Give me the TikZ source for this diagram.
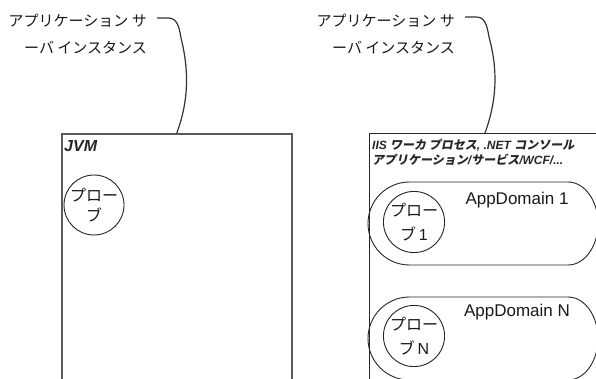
\documentclass[tikz,border=0pt]{standalone}
\usepackage{fontspec}
\setmainfont{Liberation Sans}
\newfontfamily\jp{Noto Sans CJK JP}
\newfontfamily\jpsl{Noto Sans CJK JP}[FakeSlant=0.2]
\newcommand\JB[1]{{\jpsl\bfseries #1}}
\begin{document}
\begin{tikzpicture}[x=1pt,y=-1pt,
  lbl/.style={font=\jp\fontsize{15}{27}\selectfont, text=black!90, align=right, inner sep=0pt, anchor=east},
  callout/.style={draw=black!80, line width=1.2pt},
  probe/.style={circle, draw=black!85, line width=0.9pt, minimum size=#1, inner sep=0pt, align=center, text=black!90},
  capsule/.style={draw=black!85, line width=0.9pt},
  appd/.style={font=\fontsize{17}{20}\selectfont, text=black!90, inner sep=0pt}]
\clip (0,0) rectangle (596,379);
\fill[white] (0,0) rectangle (596,379);

% boxes
\node[draw=black!65, line width=1.6pt, minimum width=230pt, minimum height=300pt,
      anchor=north west, inner sep=0pt] (jvm) at (61,133) {};
\node[draw=black!85, line width=1pt, minimum width=231pt, minimum height=300pt,
      anchor=north west, inner sep=0pt] (clr) at (369,133) {};

% labels and callouts
\node[lbl] (lbl1) at (147,34) {アプリケーション サ\\ーバ インスタンス};
\node[lbl] (lbl2) at (455,34) {アプリケーション サ\\ーバ インスタンス};
\coordinate (s1) at (157,18);
\coordinate (s2) at (465,17);
\draw[callout] (s1) -- ++(11,0) .. controls (177,18) and (179,26) .. (181,38)
   .. controls (189,70) and (189,100) .. (jvm.north);
\draw[callout] (s2) -- ++(11,0) .. controls (485,17) and (487,25) .. (489,37)
   .. controls (498,70) and (497,100) .. (clr.north);

% JVM content
\node[anchor=base west, inner sep=0pt, font=\fontsize{16}{18}\selectfont\bfseries\itshape, text=black!85] (jvmt) at (64,152) {JVM};
\node[probe=60pt, font=\jp\fontsize{16}{20}\selectfont] (p0) at (94,205) {プロー\\ブ};

% CLR content
\node[anchor=base west, inner sep=0pt, align=left, text=black!85,
      font=\fontsize{12}{15}\selectfont\bfseries\itshape] (hdr) at (372,165)
  {IIS \JB{ワーカ プロセス}, .NET \JB{コンソール}\\\JB{アプリケーション}/\JB{サービス}/WCF/...};

\draw[capsule] (409.5,182) -- (568,182) arc[start angle=90, end angle=-90, x radius=30pt, y radius=41.5pt]
   -- (409.5,265) arc[start angle=270, end angle=90, radius=41.5pt] -- cycle;
\draw[capsule] (409.5,297) -- (568,297) arc[start angle=90, end angle=-90, x radius=30pt, y radius=41.5pt]
   -- (409.5,380) arc[start angle=270, end angle=90, radius=41.5pt] -- cycle;

\node[appd] (ad1) at (517,200) {AppDomain 1};
\node[appd] (adn) at (517,312) {AppDomain N};
\node[probe=55pt, font=\jp\fontsize{16}{24}\selectfont] (p1) at (414,222) {プロー\\ブ{\rmfamily\,1}};
\node[probe=55pt, font=\jp\fontsize{16}{24}\selectfont] (pn) at (414,336) {プロー\\ブ{\rmfamily\,N}};
\end{tikzpicture}
\end{document}
